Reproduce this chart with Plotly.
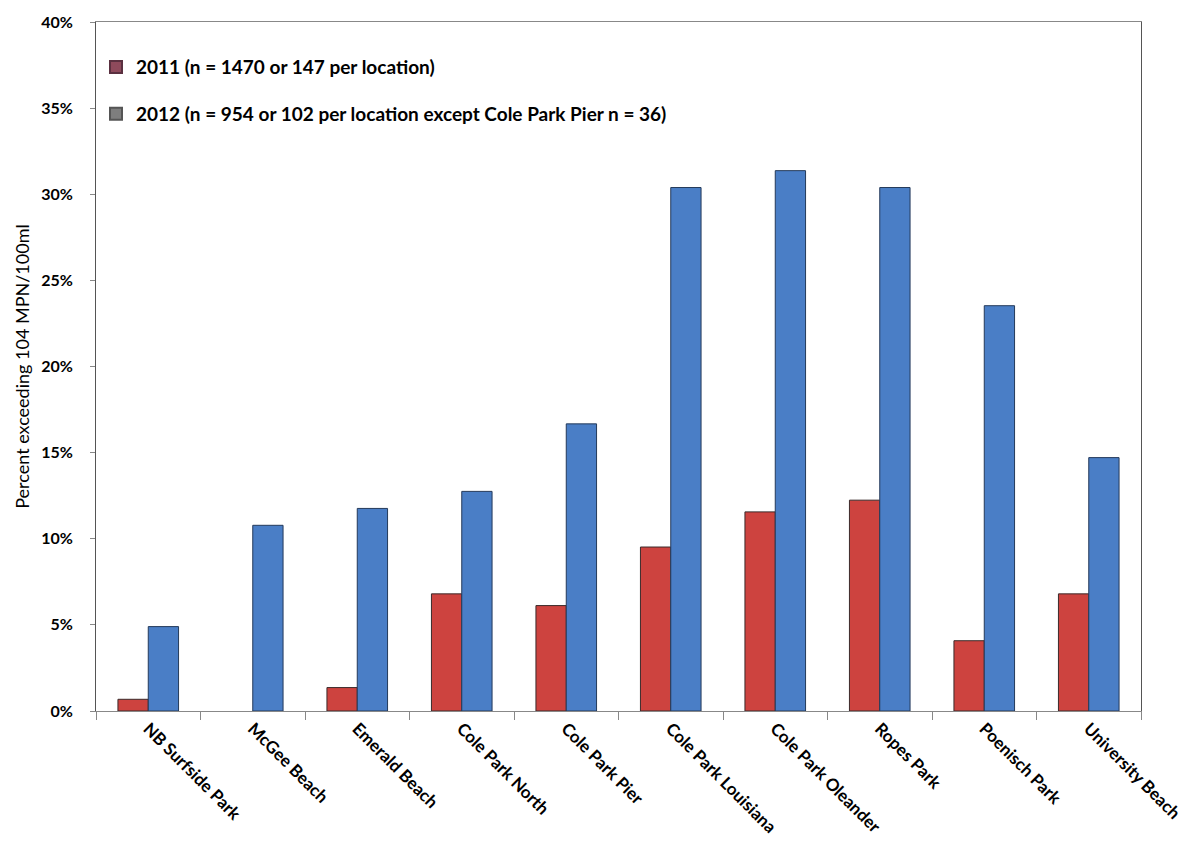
import plotly.graph_objects as go

# Sampling sites along the shoreline
locations = [
    "NB Surfside Park", "McGee Beach", "Emerald Beach", "Cole Park North",
    "Cole Park Pier", "Cole Park Louisiana", "Cole Park Oleander",
    "Ropes Park", "Poenisch Park", "University Beach",
]

# Percent of samples exceeding 104 MPN/100ml
pct_2011 = [0.68, 0.0, 1.36, 6.80, 6.12, 9.52, 11.56, 12.24, 4.08, 6.80]
pct_2012 = [4.90, 10.78, 11.76, 12.75, 16.67, 30.39, 31.37, 30.39, 23.53, 14.71]

label_2011 = "2011 (n = 1470 or 147 per location)"
label_2012 = "2012 (n = 954 or 102 per location except Cole Park Pier n = 36)"

y_ticks = [0, 5, 10, 15, 20, 25, 30, 35, 40]
y_tick_text = [f"{v}%" for v in y_ticks]

FONT = "Lato, 'Open Sans', sans-serif"


def outline_widths(values):
    # no outline on empty bars so a zero value leaves no stub
    return [1 if v > 0 else 0 for v in values]


fig = go.Figure()

fig.add_trace(go.Bar(
    x=locations, y=pct_2011, name=label_2011, showlegend=False,
    marker=dict(color="#CD433F",
                line=dict(color="#3a2a2a", width=outline_widths(pct_2011))),
))
fig.add_trace(go.Bar(
    x=locations, y=pct_2012, name=label_2012, showlegend=False,
    marker=dict(color="#4A7EC6",
                line=dict(color="#243a5a", width=outline_widths(pct_2012))),
))

# Legend entries with their own swatch colours
fig.add_trace(go.Scatter(
    x=[None], y=[None], mode="markers", name=label_2011, legendgroup="a",
    marker=dict(symbol="square", size=11, color="#8E4A5C",
                line=dict(color="#5a3040", width=1)),
))
fig.add_trace(go.Scatter(
    x=[None], y=[None], mode="markers", name=label_2012, legendgroup="b",
    marker=dict(symbol="square", size=11, color="#7E7E7E",
                line=dict(color="#555555", width=1)),
))

fig.update_layout(
    width=1198, height=861,
    margin=dict(l=96, r=57, t=22, b=150),
    paper_bgcolor="white", plot_bgcolor="white",
    barmode="group", bargap=0.42, bargroupgap=0,
    font=dict(family=FONT, color="black"),
    legend=dict(
        x=0.0, y=0.962, xanchor="left", yanchor="top",
        bgcolor="rgba(0,0,0,0)", tracegroupgap=19,
        font=dict(family=FONT, size=19, color="black", weight="bold"),
        itemsizing="constant", itemwidth=30,
    ),
)

fig.update_xaxes(
    type="category", tickson="boundaries", tickangle=45,
    ticks="outside", ticklen=8, tickcolor="#888888",
    showline=True, linecolor="#888888", linewidth=1, mirror=True,
    showgrid=False,
    tickfont=dict(family=FONT, size=17, color="black", weight="bold"),
)

fig.update_yaxes(
    range=[0, 40], tickvals=y_ticks, ticktext=y_tick_text,
    ticks="outside", ticklen=5, tickcolor="#888888",
    showline=True, linecolor="#555555", linewidth=1, mirror=True,
    showgrid=False, zeroline=False, ticklabelstandoff=14,
    tickfont=dict(family=FONT, size=16, color="black", weight="bold"),
    title=dict(text="Percent exceeding 104 MPN/100ml", standoff=6,
               font=dict(family=FONT, size=18, color="black")),
)

fig.write_html("out.html")
